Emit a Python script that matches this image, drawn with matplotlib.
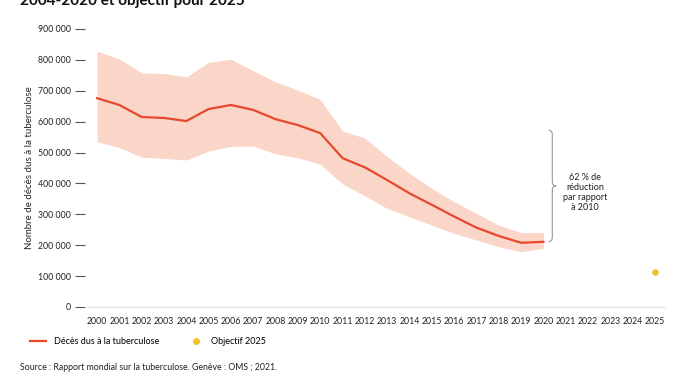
import matplotlib
matplotlib.use("Agg")
import matplotlib.pyplot as plt
from matplotlib.ticker import FuncFormatter
from matplotlib.lines import Line2D
from matplotlib.path import Path
from matplotlib.patches import PathPatch

plt.rcParams['font.family'] = ['Lato', 'DejaVu Sans']

years = list(range(2000, 2021))
deaths = [676000, 654000, 615000, 612000, 602000, 641000, 654000, 638000, 608000, 589000,
          563000, 482000, 452000, 411000, 368000, 331000, 293000, 257000, 230000, 208000, 211000]
upper = [828000, 803000, 758000, 756000, 745000, 792000, 802000, 765000, 729000, 702000,
         672000, 570000, 547000, 487000, 433000, 384000, 341000, 303000, 265000, 241000, 241000]
lower = [535000, 516000, 485000, 481000, 476000, 505000, 520000, 521000, 496000, 483000,
         462000, 398000, 360000, 319000, 292000, 265000, 238000, 217000, 195000, 179000, 190000]
target_year = [2025]
target_value = [113000]
all_years = list(range(2000, 2026))
yticks = [0, 100000, 200000, 300000, 400000, 500000, 600000, 700000, 800000, 900000]

red = '#E8482B'
band = '#F9D6C8'
yellow = '#F2C12E'

fig = plt.figure(figsize=(6.75, 3.75), dpi=100)
ax = fig.add_axes([85/675, 1-307/375, 580/675, 278/375])

ax.fill_between(years, lower, upper, color=band, lw=0)
ax.plot(years, deaths, color=red, lw=1.6)
ax.scatter(target_year, target_value, color=yellow, s=14, zorder=3)

ax.set_xlim(1999.46, 2025.45)
ax.set_ylim(0, 900000)
ax.set_xticks(all_years)
ax.set_xticklabels([str(y) for y in all_years])
ax.set_yticks(yticks)
ax.yaxis.set_major_formatter(FuncFormatter(lambda v, p: '0' if v == 0 else f"{int(v):,}".replace(',', '\u202f')))
for s in ['top', 'right', 'left']:
    ax.spines[s].set_visible(False)
ax.spines['bottom'].set_color('#e2e2e2')
ax.spines['bottom'].set_linewidth(0.8)
ax.tick_params(axis='x', length=0, pad=7, labelsize=6.3, colors='#222222')
ax.tick_params(axis='y', length=7, width=0.8, color='#555555', pad=3, labelsize=6.3, labelcolor='#222222')
ax.set_ylabel('Nombre de décès dus à la tuberculose', fontsize=7, color='#222222', labelpad=3)

# curly brace annotation
top, bot = 572000, 212000
mid = (top + bot) / 2
x0, x1, x2 = 2020.24, 2020.40, 2020.57
r = 14000
verts = [(x0, top), (x1, top), (x1, top - r),
         (x1, mid + r), (x1, mid), (x2, mid),
         (x1, mid), (x1, mid - r),
         (x1, bot + r), (x1, bot), (x0, bot)]
codes = [Path.MOVETO, Path.CURVE3, Path.CURVE3,
         Path.LINETO, Path.CURVE3, Path.CURVE3,
         Path.CURVE3, Path.CURVE3,
         Path.LINETO, Path.CURVE3, Path.CURVE3]
ax.add_patch(PathPatch(Path(verts, codes), fill=False, edgecolor='#999999', lw=0.8, clip_on=False))
ax.text(2021.86, 372000, '62 % de\nréduction\npar rapport\nà 2010', fontsize=6.5,
        ha='center', va='center', color='#222222', linespacing=1.15)

# legend
handles = [Line2D([0], [0], color=red, lw=1.6),
           Line2D([0], [0], marker='o', color='none', markerfacecolor=yellow, markeredgecolor=yellow, markersize=4)]
fig.legend(handles, ['Décès dus à la tuberculose', 'Objectif 2025'], loc='center left',
           bbox_to_anchor=(22/675, 1-342/375), ncol=2, frameon=False, fontsize=6.5,
           handlelength=1.8, columnspacing=3.2, handletextpad=0.8)

fig.text(20/675, 1-5/375, '2004-2020 et objectif pour 2025', fontsize=11, fontweight='bold',
         ha='left', va='baseline', color='#111111')
fig.text(20/675, 1-367/375, 'Source : Rapport mondial sur la tuberculose. Genève : OMS ; 2021.',
         fontsize=6.3, ha='left', va='center', color='#222222')

fig.savefig('out.png', dpi=100, facecolor='white')
